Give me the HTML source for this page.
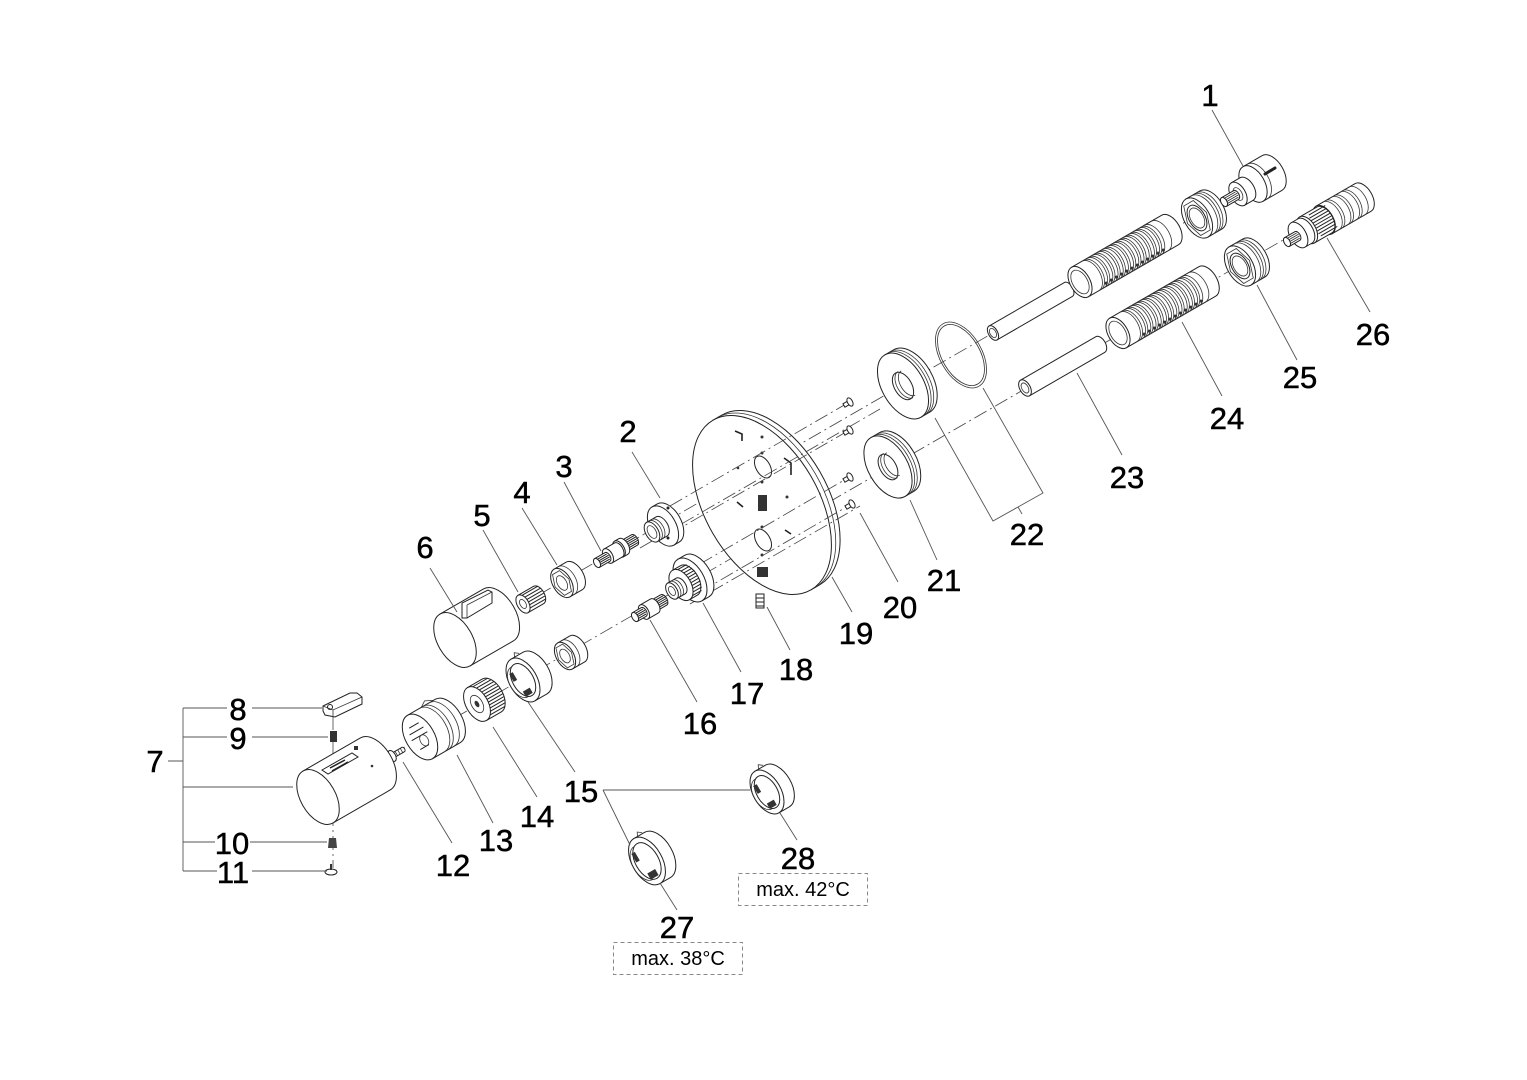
<!DOCTYPE html>
<html><head><meta charset="utf-8"><style>
html,body{margin:0;padding:0;background:#fff;}
svg{display:block}
.p path,.p ellipse,.p polygon,.p rect{fill:#fff;stroke:#222;stroke-width:1}
.p .s,.s{fill:none;stroke:#333;stroke-width:0.8}
.p .dk,.dk{fill:#333;stroke:none}
.d{fill:none;stroke:#444;stroke-width:0.8;stroke-dasharray:14 4 2 4}
.l{fill:none;stroke:#555;stroke-width:0.9}
.box{fill:none;stroke:#888;stroke-width:1;stroke-dasharray:4 3}
text{font-family:"Liberation Sans",Arial,sans-serif;fill:#000}
.n{font-size:31px;text-anchor:middle;stroke:#000;stroke-width:0.5}
.m{font-size:20px;text-anchor:middle}
</style></head><body>
<svg width="1527" height="1080" viewBox="0 0 1527 1080" xmlns="http://www.w3.org/2000/svg">
<rect width="1527" height="1080" fill="#fff"/>

<!-- main axes (behind) -->
<path class="d" d="M497,619 L1232,195"/>
<path class="d" d="M330,790 L1290,236"/>
<path class="d" d="M333,716 V868"/>

<!-- 19 plate -->
<g class="p" transform="translate(762,505) rotate(-30)">
 <path d="M0,-98 H10 A56.8 98 0 0 1 10,98 H0Z"/>
 <path class="s" d="M5,-98 A56.8 98 0 0 1 5,98"/>
 <ellipse rx="56.8" ry="98"/>
</g>
<g class="p" transform="translate(763,467) rotate(-30)"><ellipse rx="7" ry="12"/></g>
<g class="p" transform="translate(763,540) rotate(-30)"><ellipse rx="7" ry="12"/></g>
<g fill="#333">
 <circle cx="762" cy="437" r="1.5"/><circle cx="762" cy="453" r="1.5"/><circle cx="738" cy="468" r="1.3"/>
 <circle cx="762" cy="482" r="1.5"/><circle cx="787" cy="497" r="1.5"/><circle cx="762" cy="527" r="1.5"/>
 <circle cx="762" cy="555" r="1.5"/>
 <rect x="758" y="495" width="9" height="16"/>
 <rect x="757" y="567" width="11" height="10"/>
</g>
<path d="M735,431 L742,434 L742,441 M784,458 L791,463 L791,475 M737,502 L743,507 M785,530 L791,534" fill="none" stroke="#222" stroke-width="1.6"/>
<!-- 18 -->
<g><rect x="756" y="594" width="8" height="14" fill="#fff" stroke="#222"/><path d="M756,598 H764 M756,602 H764 M756,606 H764" stroke="#222" stroke-width="1"/></g>

<!-- dash lines over plate -->
<path class="d" d="M670,506 L846,404"/>
<path class="d" d="M670,534 L846,432"/>
<path class="d" d="M700,564 L846,479"/>
<path class="d" d="M700,592 L848,506"/>
<path class="d" d="M640,548 L880,409"/>
<path class="d" d="M690,604 L860,506"/>

<!-- 20 screws -->
<g class="p" transform="translate(850,402) rotate(-30)"><path d="M-7,-2 H0 V2 H-7Z"/><ellipse rx="2.5" ry="4.5"/></g>
<g class="p" transform="translate(850,430) rotate(-30)"><path d="M-7,-2 H0 V2 H-7Z"/><ellipse rx="2.5" ry="4.5"/></g>
<g class="p" transform="translate(850,477) rotate(-30)"><path d="M-7,-2 H0 V2 H-7Z"/><ellipse rx="2.5" ry="4.5"/></g>
<g class="p" transform="translate(852,504) rotate(-30)"><path d="M-7,-2 H0 V2 H-7Z"/><ellipse rx="2.5" ry="4.5"/></g>

<!-- 22 cover -->
<g class="p" transform="translate(903,386) rotate(-30)">
 <path d="M0,-36 H10 A20.9 36 0 0 1 10,36 H0Z"/>
 <path class="s" d="M3,-36 A20.9 36 0 0 1 3,36 M6,-36 A20.9 36 0 0 1 6,36"/>
 <ellipse rx="20.9" ry="36"/>
 <ellipse rx="8.7" ry="15"/>
 <path class="s" d="M3,-15 A8.7 15 0 0 0 3,15 M6,-14 A8 14 0 0 0 6,14"/>
</g>
<!-- O-ring -->
<g transform="translate(961,355) rotate(-30)"><ellipse class="s" rx="20.9" ry="36"/><ellipse class="s" rx="19" ry="33.5"/></g>
<!-- 21 cover -->
<g class="p" transform="translate(888,467) rotate(-30)">
 <path d="M0,-34 H10 A19.7 34 0 0 1 10,34 H0Z"/>
 <path class="s" d="M3,-34 A19.7 34 0 0 1 3,34 M6,-34 A19.7 34 0 0 1 6,34"/>
 <ellipse rx="19.7" ry="34"/>
 <ellipse rx="8.1" ry="14"/>
 <path class="s" d="M3,-14 A8.1 14 0 0 0 3,14 M6,-13 A7.5 13 0 0 0 6,13"/>
</g>

<!-- 23 pipes -->
<g class="p" transform="translate(993,333) rotate(-30)">
 <path d="M0,-8 H87 A4.6 8 0 0 1 87,8 H0Z"/><ellipse rx="4.6" ry="8"/><ellipse class="s" rx="3" ry="5"/>
</g>
<g class="p" transform="translate(1025,388) rotate(-30)">
 <path d="M0,-9 H87 A5.2 9 0 0 1 87,9 H0Z"/><ellipse rx="5.2" ry="9"/><ellipse class="s" rx="3.2" ry="5.5"/>
</g>

<!-- 24 sleeves -->
<g class="p" transform="translate(1080,282) rotate(-30)">
 <path d="M0,-17 H104 A9.9 17 0 0 1 104,17 H0Z"/>
 <path class="s" d="M92,-17 A9.9 17 0 0 1 92,17 M12,-17 A9.9 17 0 0 1 12,17 M18,-17 A9.9 17 0 0 1 18,17 M24,-17 A9.9 17 0 0 1 24,17 M30,-17 A9.9 17 0 0 1 30,17 M36,-17 A9.9 17 0 0 1 36,17 M42,-17 A9.9 17 0 0 1 42,17 M48,-17 A9.9 17 0 0 1 48,17 M54,-17 A9.9 17 0 0 1 54,17 M60,-17 A9.9 17 0 0 1 60,17 M66,-17 A9.9 17 0 0 1 66,17 M72,-17 A9.9 17 0 0 1 72,17 M78,-17 A9.9 17 0 0 1 78,17 M84,-17 A9.9 17 0 0 1 84,17"/>
 <path class="s" d="M14.5,-17 A9.9 17 0 0 1 14.5,17 M20.5,-17 A9.9 17 0 0 1 20.5,17 M26.5,-17 A9.9 17 0 0 1 26.5,17 M32.5,-17 A9.9 17 0 0 1 32.5,17 M38.5,-17 A9.9 17 0 0 1 38.5,17 M44.5,-17 A9.9 17 0 0 1 44.5,17 M50.5,-17 A9.9 17 0 0 1 50.5,17 M56.5,-17 A9.9 17 0 0 1 56.5,17 M62.5,-17 A9.9 17 0 0 1 62.5,17 M68.5,-17 A9.9 17 0 0 1 68.5,17 M74.5,-17 A9.9 17 0 0 1 74.5,17 M80.5,-17 A9.9 17 0 0 1 80.5,17"/>
 <g class="dk"><circle cx="22" cy="14" r="1.6"/><circle cx="28" cy="14" r="1.6"/><circle cx="34" cy="14" r="1.6"/><circle cx="40" cy="14" r="1.6"/><circle cx="46" cy="14" r="1.6"/><circle cx="52" cy="14" r="1.6"/><circle cx="58" cy="14" r="1.6"/><circle cx="64" cy="14" r="1.6"/><circle cx="70" cy="14" r="1.6"/><circle cx="76" cy="14" r="1.6"/><circle cx="82" cy="14" r="1.6"/><circle cx="88" cy="14" r="1.6"/></g>
 <ellipse rx="9.9" ry="17"/><ellipse class="s" rx="7.5" ry="13"/>
</g>
<g class="p" transform="translate(1118,333) rotate(-30)">
 <path d="M0,-17 H103 A9.9 17 0 0 1 103,17 H0Z"/>
 <path class="s" d="M91,-17 A9.9 17 0 0 1 91,17 M12,-17 A9.9 17 0 0 1 12,17 M18,-17 A9.9 17 0 0 1 18,17 M24,-17 A9.9 17 0 0 1 24,17 M30,-17 A9.9 17 0 0 1 30,17 M36,-17 A9.9 17 0 0 1 36,17 M42,-17 A9.9 17 0 0 1 42,17 M48,-17 A9.9 17 0 0 1 48,17 M54,-17 A9.9 17 0 0 1 54,17 M60,-17 A9.9 17 0 0 1 60,17 M66,-17 A9.9 17 0 0 1 66,17 M72,-17 A9.9 17 0 0 1 72,17 M78,-17 A9.9 17 0 0 1 78,17 M84,-17 A9.9 17 0 0 1 84,17"/>
 <path class="s" d="M14.5,-17 A9.9 17 0 0 1 14.5,17 M20.5,-17 A9.9 17 0 0 1 20.5,17 M26.5,-17 A9.9 17 0 0 1 26.5,17 M32.5,-17 A9.9 17 0 0 1 32.5,17 M38.5,-17 A9.9 17 0 0 1 38.5,17 M44.5,-17 A9.9 17 0 0 1 44.5,17 M50.5,-17 A9.9 17 0 0 1 50.5,17 M56.5,-17 A9.9 17 0 0 1 56.5,17 M62.5,-17 A9.9 17 0 0 1 62.5,17 M68.5,-17 A9.9 17 0 0 1 68.5,17 M74.5,-17 A9.9 17 0 0 1 74.5,17 M80.5,-17 A9.9 17 0 0 1 80.5,17"/>
 <g class="dk"><circle cx="22" cy="14" r="1.6"/><circle cx="28" cy="14" r="1.6"/><circle cx="34" cy="14" r="1.6"/><circle cx="40" cy="14" r="1.6"/><circle cx="46" cy="14" r="1.6"/><circle cx="52" cy="14" r="1.6"/><circle cx="58" cy="14" r="1.6"/><circle cx="64" cy="14" r="1.6"/><circle cx="70" cy="14" r="1.6"/><circle cx="76" cy="14" r="1.6"/><circle cx="82" cy="14" r="1.6"/><circle cx="88" cy="14" r="1.6"/></g>
 <ellipse rx="9.9" ry="17"/><ellipse class="s" rx="7.5" ry="13"/>
</g>

<!-- upper nut -->
<g class="p" transform="translate(1197,218) rotate(-30)">
 <path d="M0,-22 H16 A12.8 22 0 0 1 16,22 H0Z"/>
 <path class="s" d="M6,-22 A12.8 22 0 0 1 6,22 M9,-22 A12.8 22 0 0 1 9,22 M12,-22 A12.8 22 0 0 1 12,22"/>
 <ellipse rx="12.8" ry="22"/>
 <polygon class="s" points="11,0 5.5,17 -5.5,17 -11,0 -5.5,-17 5.5,-17"/>
 <ellipse rx="8.1" ry="14"/>
 <ellipse class="s" rx="6.4" ry="11"/>
</g>
<!-- 25 nut -->
<g class="p" transform="translate(1240,266) rotate(-30)">
 <path d="M0,-22 H16 A12.8 22 0 0 1 16,22 H0Z"/>
 <path class="s" d="M6,-22 A12.8 22 0 0 1 6,22 M9,-22 A12.8 22 0 0 1 9,22 M12,-22 A12.8 22 0 0 1 12,22"/>
 <ellipse rx="12.8" ry="22"/>
 <polygon class="s" points="11,0 5.5,17 -5.5,17 -11,0 -5.5,-17 5.5,-17"/>
 <ellipse rx="8.1" ry="14"/>
 <ellipse class="s" rx="6.4" ry="11"/>
</g>

<!-- 1 -->
<g class="p" transform="translate(1253,184) rotate(-30)">
 <path d="M0,-20 H22 A11.6 20 0 0 1 22,20 H0Z"/>
 <path class="s" d="M5,-20 A11.6 20 0 0 1 5,20"/>
 <ellipse rx="11.6" ry="20"/>
</g>
<path d="M1265,174 L1275,168" stroke="#222" stroke-width="3" stroke-linecap="round"/>
<g class="p" transform="translate(1238,194) rotate(-30)">
 <path d="M0,-13 H10 A7.5 13 0 0 1 10,13 H0Z"/><ellipse rx="7.5" ry="13"/><ellipse class="s" rx="4" ry="7"/>
</g>
<g class="p" transform="translate(1224,202) rotate(-30)">
 <path d="M0,-5 H14 A2.9 5 0 0 1 14,5 H0Z"/>
 <path class="s" d="M2,-3 H15 M2,-1 H16 M2,1 H16 M2,3 H15"/>
 <ellipse rx="2.9" ry="5"/>
</g>

<!-- 26 -->
<g class="p" transform="translate(1324,220) rotate(-30)">
 <path d="M0,-16 H45 A9.3 16 0 0 1 45,16 H0Z"/>
 <path class="s" d="M8,-16 A9.3 16 0 0 1 8,16 M11,-16 A9.3 16 0 0 1 11,16 M18,-16 A9.3 16 0 0 1 18,16 M21,-16 A9.3 16 0 0 1 21,16 M28,-16 A9.3 16 0 0 1 28,16 M31,-16 A9.3 16 0 0 1 31,16 M38,-16 A9.3 16 0 0 1 38,16"/>
 <ellipse rx="9.3" ry="16"/>
</g>
<g class="p" transform="translate(1307,230) rotate(-30)">
 <path d="M0,-15 H20 A8.7 15 0 0 1 20,15 H0Z"/>
 <path d="M9,-12 H28 M8,-9 H28 M8,-6 H29 M8,-3 H29 M8,0 H29 M8,3 H29 M8,6 H29 M8,9 H28 M9,12 H28" stroke="#222" stroke-width="1.3"/>
 <ellipse rx="8.7" ry="15"/>
</g>
<g class="p" transform="translate(1298,235) rotate(-30)">
 <path d="M0,-14 H8 A8.1 14 0 0 1 8,14 H0Z"/><ellipse rx="8.1" ry="14"/>
</g>
<g class="p" transform="translate(1287,242) rotate(-30)">
 <path d="M0,-5 H12 A2.9 5 0 0 1 12,5 H0Z"/>
 <path class="s" d="M2,-3 H13 M2,-1 H14 M2,1 H14 M2,3 H13"/>
 <ellipse rx="2.9" ry="5"/>
</g>

<!-- 2 -->
<g class="p" transform="translate(663,526) rotate(-30)">
 <path d="M0,-22 H6 A12.8 22 0 0 1 6,22 H0Z"/><ellipse rx="12.8" ry="22"/>
</g>
<circle cx="668" cy="508" r="1.5" fill="#222"/><circle cx="668" cy="538" r="1.5" fill="#222"/>
<g class="p" transform="translate(652,532) rotate(-30)">
 <path d="M0,-11 H11 A6.4 11 0 0 1 11,11 H0Z"/>
 <path class="s" d="M3,-11 A6.4 11 0 0 1 3,11 M6,-11 A6.4 11 0 0 1 6,11"/>
 <ellipse rx="6.4" ry="11"/><ellipse class="s" rx="4" ry="7"/>
</g>

<!-- 3 -->
<g class="p" transform="translate(624,546) rotate(-30)">
 <path d="M0,-6 H12 A3.5 6 0 0 1 12,6 H0Z"/>
 <path d="M2,-4 H14 M2,-2 H15 M2,0 H15 M2,2 H15 M2,4 H14" stroke="#222" stroke-width="0.9"/>
 <ellipse rx="3.5" ry="6"/>
</g>
<g class="p" transform="translate(619,549) rotate(-30)"><path d="M0,-9 H5 A5.2 9 0 0 1 5,9 H0Z"/><ellipse rx="5.2" ry="9"/></g>
<g class="p" transform="translate(608,556) rotate(-30)"><path d="M0,-8 H12 A4.6 8 0 0 1 12,8 H0Z"/><ellipse rx="4.6" ry="8"/></g>
<g class="p" transform="translate(597,563) rotate(-30)">
 <path d="M0,-5 H12 A2.9 5 0 0 1 12,5 H0Z"/>
 <path d="M2,-3 H13 M2,-1 H14 M2,1 H14 M2,3 H13" stroke="#222" stroke-width="0.9"/>
 <ellipse rx="2.9" ry="5"/>
</g>

<!-- 4 nut upper -->
<g class="p" transform="translate(562,583) rotate(-30)">
 <path d="M0,-16 H14 A9.3 16 0 0 1 14,16 H0Z"/>
 <path class="s" d="M5,-16 A9.3 16 0 0 1 5,16"/>
 <ellipse rx="9.3" ry="16"/>
 <polygon class="s" points="8,0 4,12 -4,12 -8,0 -4,-12 4,-12"/>
 <ellipse class="s" rx="4.6" ry="8"/>
</g>
<!-- 5 -->
<g class="p" transform="translate(523,604) rotate(-30)">
 <path d="M0,-10 H18 A5.8 10 0 0 1 18,10 H0Z"/>
 <path d="M4,-8 H22 M5,-5 H23 M5,-2 H24 M5,1 H24 M5,4 H23 M4,7 H22" stroke="#222" stroke-width="1.3"/>
 <ellipse rx="5.8" ry="10"/><ellipse class="s" rx="2.9" ry="5"/>
</g>
<!-- 6 cap -->
<g class="p" transform="translate(455,640) rotate(-30)">
 <path d="M0,-30 H50 A17.4 30 0 0 1 50,30 H0Z"/><ellipse rx="17.4" ry="30"/>
</g>
<g class="p"><polygon points="462,618 462,603 488,590 492,592 492,603 467,618"/></g>
<path class="s" d="M467,605 V618 M467,605 L492,592"/>

<!-- 17 -->
<g class="p" transform="translate(690,580) rotate(-30)">
 <path d="M0,-24 H8 A13.9 24 0 0 1 8,24 H0Z"/><ellipse rx="13.9" ry="24"/>
</g>
<g class="p" transform="translate(681,585) rotate(-30)">
 <path d="M0,-17 H9 A9.9 17 0 0 1 9,17 H0Z"/>
 <path d="M5,-15 H15 M7,-12 H17 M8,-9 H18 M9,-6 H19 M9,-3 H19 M9,0 H19 M9,3 H19 M9,6 H19 M8,9 H18 M7,12 H17 M5,15 H15" stroke="#222" stroke-width="1"/>
 <ellipse rx="9.9" ry="17"/>
</g>
<g class="p" transform="translate(672,591) rotate(-30)">
 <path d="M0,-9 H10 A5.2 9 0 0 1 10,9 H0Z"/>
 <path class="s" d="M3,-9 A5.2 9 0 0 1 3,9 M6,-9 A5.2 9 0 0 1 6,9"/>
 <ellipse rx="5.2" ry="9"/><ellipse class="s" rx="2.9" ry="5"/>
</g>
<!-- 16 -->
<g class="p" transform="translate(655,605) rotate(-30)">
 <path d="M0,-6 H10 A3.5 6 0 0 1 10,6 H0Z"/>
 <path d="M2,-4 H12 M2,-2 H13 M2,0 H13 M2,2 H13 M2,4 H12" stroke="#222" stroke-width="0.9"/>
 <ellipse rx="3.5" ry="6"/>
</g>
<g class="p" transform="translate(644,612) rotate(-30)"><path d="M0,-8 H12 A4.6 8 0 0 1 12,8 H0Z"/><ellipse rx="4.6" ry="8"/></g>
<g class="p" transform="translate(635,617) rotate(-30)">
 <path d="M0,-5 H10 A2.9 5 0 0 1 10,5 H0Z"/>
 <path d="M2,-3 H11 M2,-1 H12 M2,1 H12 M2,3 H11" stroke="#222" stroke-width="0.9"/>
 <ellipse rx="2.9" ry="5"/>
</g>
<!-- lower nut -->
<g class="p" transform="translate(565,656) rotate(-30)">
 <path d="M0,-15 H14 A8.7 15 0 0 1 14,15 H0Z"/>
 <path class="s" d="M5,-15 A8.7 15 0 0 1 5,15"/>
 <ellipse rx="8.7" ry="15"/>
 <polygon class="s" points="7.5,0 3.8,11.5 -3.8,11.5 -7.5,0 -3.8,-11.5 3.8,-11.5"/>
 <ellipse class="s" rx="4.4" ry="7.5"/>
</g>
<!-- 15 ring -->
<g class="p" transform="translate(523,680) rotate(-30)">
 <path d="M0,-24 H14 A13.9 24 0 0 1 14,24 H0Z"/>
 <ellipse rx="13.9" ry="24"/>
 <ellipse rx="10.4" ry="18"/>
 <path class="s" d="M-4,-17 A10 17 0 0 0 -4,17"/>
 <rect class="dk" x="-6" y="10" width="8" height="6"/>
 <rect class="dk" x="-9" y="-12" width="4" height="9"/>
 <path class="s" d="M4,-24 L6,-28 L10,-25"/>
</g>
<!-- 14 knurled -->
<g class="p" transform="translate(477,704) rotate(-30)">
 <path d="M0,-19 H17 A11 19 0 0 1 17,19 H0Z"/>
 <path d="M4.8,-17 H21.8 M7.3,-14 H24.3 M8.8,-11 H25.8 M9.9,-8 H26.9 M10.5,-5 H27.5 M10.9,-2 H27.9 M10.9,1 H27.9 M10.6,4 H27.6 M10.1,7 H27.1 M9.2,10 H26.2 M7.8,13 H24.8 M5.6,16 H22.6" stroke="#222" stroke-width="1"/>
 <ellipse rx="11" ry="19"/>
 <ellipse class="s" rx="5.5" ry="9.5"/>
 <ellipse class="dk" rx="2" ry="3.5"/>
</g>
<!-- 13 -->
<g class="p" transform="translate(420,737) rotate(-30)">
 <path d="M0,-25 H32 A14.5 25 0 0 1 32,25 H0Z"/>
 <path class="s" d="M14,-25 A14.5 25 0 0 1 14,25 M18,-25 A14.5 25 0 0 1 18,25 M25,-25 A14.5 25 0 0 1 25,25 M16,-25 L22,-29 L30,-25"/>
 <ellipse rx="14.5" ry="25"/>
 <path d="M-5,-13 H6 M-8,-7 H8 M-9,-1 H9 M-6,11 H4" stroke="#222" stroke-width="2"/>
 <ellipse class="s" cx="2" cy="5" rx="4" ry="6"/>
</g>
<!-- 12 screw -->
<g class="p" transform="translate(392,756) rotate(-30)">
 <path d="M0,-2.5 H13 A1.5 2.5 0 0 1 13,2.5 H0Z"/>
 <path class="s" d="M5,-2.5 V2.5 M8,-2.5 V2.5 M11,-2.5 V2.5"/>
 <ellipse rx="3.5" ry="6"/>
</g>
<!-- 7 cap -->
<g class="p" transform="translate(318,797) rotate(-30)">
 <path d="M0,-30 H66 A17.4 30 0 0 1 66,30 H0Z"/><ellipse rx="17.4" ry="30"/>
</g>
<g class="p"><polygon points="322,770 352,753 358,757 328,774"/></g>
<path d="M330,768 L345,760 M332,771 L348,762" stroke="#222" stroke-width="1.5"/>
<rect x="354" y="746" width="4" height="4" fill="#333"/>
<circle cx="372" cy="766" r="1.3" fill="#333"/>
<!-- 8 -->
<g class="p"><polygon points="323,706 350,693 357,693 362,697 362,704 335,717 325,715 323,711"/></g>
<path class="s" d="M323,706 L333,710 L362,697 M333,710 V717"/>
<circle cx="330" cy="707" r="2.5" fill="none" stroke="#222"/>
<!-- 9 -->
<rect x="330" y="731" width="7" height="11" fill="#333"/>
<!-- 10 -->
<path d="M329,838 L336,838 L337,848 L328,848Z" fill="#444"/>
<!-- 11 -->
<ellipse cx="331" cy="872" rx="6" ry="3" fill="#fff" stroke="#222"/>
<rect x="330" y="864" width="2" height="6" fill="#333"/>

<!-- 27 ring -->
<g class="p" transform="translate(647,861) rotate(-30)">
 <path d="M0,-26 H12 A15.1 26 0 0 1 12,26 H0Z"/>
 <ellipse rx="15.1" ry="26"/>
 <ellipse rx="11.6" ry="20"/>
 <path class="s" d="M-4,-19 A11 19 0 0 0 -4,19"/>
 <rect class="dk" x="-6" y="11" width="9" height="7"/>
 <rect class="dk" x="-10" y="-14" width="4" height="10"/>
 <path class="s" d="M4,-26 L6,-30 L10,-27"/>
</g>
<!-- 28 ring -->
<g class="p" transform="translate(767,792) rotate(-30)">
 <path d="M0,-24 H12 A13.9 24 0 0 1 12,24 H0Z"/>
 <ellipse rx="13.9" ry="24"/>
 <ellipse rx="10.4" ry="18"/>
 <path class="s" d="M-4,-17 A10 17 0 0 0 -4,17"/>
 <rect class="dk" x="-6" y="10" width="8" height="6"/>
 <rect class="dk" x="-9" y="-12" width="4" height="9"/>
 <path class="s" d="M4,-24 L6,-28 L10,-25"/>
</g>

<!-- leader lines -->
<path class="l" d="M1212,110 L1243,166"/>
<path class="l" d="M1327,238 L1370,312"/>
<path class="l" d="M1257,285 L1297,360"/>
<path class="l" d="M1182,322 L1222,396"/>
<path class="l" d="M1077,373 L1122,455"/>
<path class="l" d="M935,418 L993,521 L1043,493 L983,388 M1018,507 L1022,514"/>
<path class="l" d="M910,500 L937,560"/>
<path class="l" d="M860,513 L898,582"/>
<path class="l" d="M832,577 L852,612"/>
<path class="l" d="M767,607 L790,650"/>
<path class="l" d="M703,603 L741,672"/>
<path class="l" d="M650,620 L697,702"/>
<path class="l" d="M528,702 L575,772"/>
<path class="l" d="M603,790 L750,790 M603,790 L630,845"/>
<path class="l" d="M660,883 L677,910"/>
<path class="l" d="M780,813 L797,840"/>
<path class="l" d="M493,727 L537,797"/>
<path class="l" d="M457,755 L493,823"/>
<path class="l" d="M403,762 L452,843"/>
<path class="l" d="M430,568 L457,612"/>
<path class="l" d="M483,530 L518,592"/>
<path class="l" d="M522,508 L557,565"/>
<path class="l" d="M564,482 L601,551"/>
<path class="l" d="M632,452 L660,498"/>
<!-- bracket 7 -->
<path class="l" d="M183,708 V871 M183,708 H227 M252,708 H322 M183,737 H227 M252,737 H328 M168,761 H183 M183,787 H293 M183,842 H215 M250,842 H327 M183,871 H217 M252,871 H327"/>

<!-- labels -->
<text class="n" x="1210" y="106">1</text>
<text class="n" x="628" y="442">2</text>
<text class="n" x="564" y="477">3</text>
<text class="n" x="522" y="503">4</text>
<text class="n" x="482" y="526">5</text>
<text class="n" x="425" y="558">6</text>
<text class="n" x="155" y="772">7</text>
<text class="n" x="238" y="720">8</text>
<text class="n" x="238" y="749">9</text>
<text class="n" x="232" y="854">10</text>
<text class="n" x="233" y="883">11</text>
<text class="n" x="453" y="876">12</text>
<text class="n" x="496" y="851">13</text>
<text class="n" x="537" y="827">14</text>
<text class="n" x="581" y="802">15</text>
<text class="n" x="700" y="734">16</text>
<text class="n" x="747" y="704">17</text>
<text class="n" x="796" y="680">18</text>
<text class="n" x="856" y="644">19</text>
<text class="n" x="900" y="618">20</text>
<text class="n" x="944" y="591">21</text>
<text class="n" x="1027" y="545">22</text>
<text class="n" x="1127" y="488">23</text>
<text class="n" x="1227" y="429">24</text>
<text class="n" x="1300" y="388">25</text>
<text class="n" x="1373" y="345">26</text>
<text class="n" x="677" y="938">27</text>
<text class="n" x="798" y="869">28</text>

<rect class="box" x="613.5" y="942.5" width="129" height="32"/>
<text class="m" x="678" y="965">max. 38°C</text>
<rect class="box" x="738.5" y="873.5" width="129" height="32"/>
<text class="m" x="803" y="896">max. 42°C</text>
</svg>
</body></html>
